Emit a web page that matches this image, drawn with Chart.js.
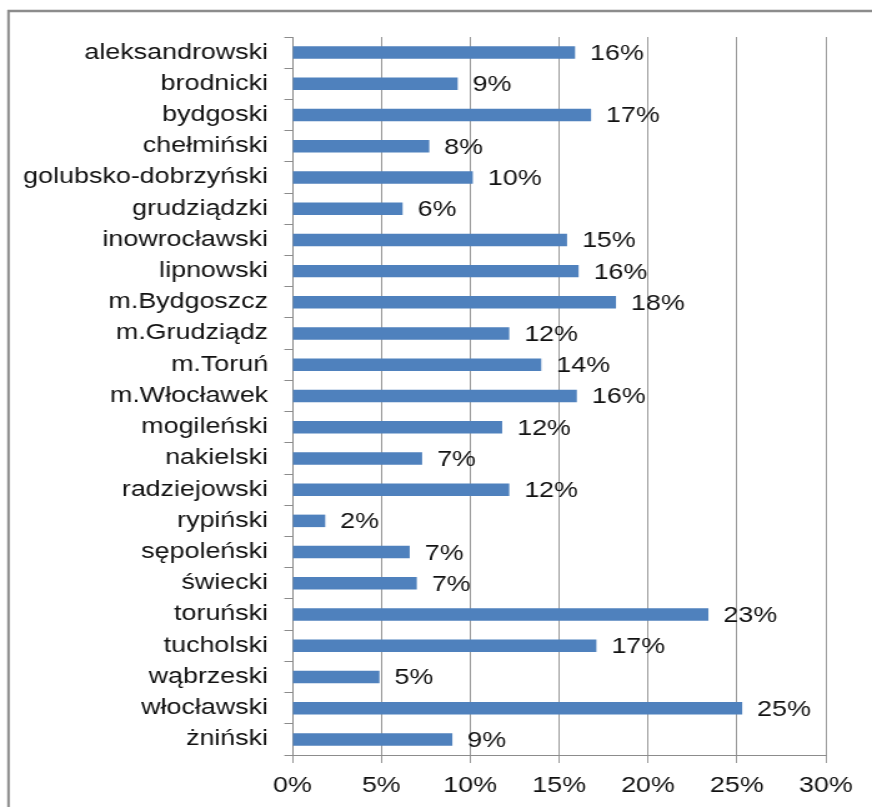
<!DOCTYPE html>
<html>
<head>
<meta charset="utf-8">
<script src="https://cdn.jsdelivr.net/npm/chart.js@4"></script>
<style>
  html, body { margin: 0; padding: 0; background: #fff; overflow: hidden; }
</style>
</head>
<body>
<!-- the reference picture is stretched sideways, so the canvas is drawn narrow and shown wide -->
<canvas id="chart" width="698" height="807" style="width:872px;height:807px;display:block"></canvas>
<script>
var categories = ['aleksandrowski', 'brodnicki', 'bydgoski', 'chełmiński', 'golubsko-dobrzyński',
    'grudziądzki', 'inowrocławski', 'lipnowski', 'm.Bydgoszcz', 'm.Grudziądz', 'm.Toruń',
    'm.Włocławek', 'mogileński', 'nakielski', 'radziejowski', 'rypiński', 'sępoleński',
    'świecki', 'toruński', 'tucholski', 'wąbrzeski', 'włocławski', 'żniński'];
var shares = [15.9, 9.3, 16.8, 7.7, 10.15, 6.2, 15.45, 16.1, 18.2, 12.2, 14.0,
    16.0, 11.8, 7.3, 12.2, 1.85, 6.6, 7.0, 23.4, 17.1, 4.9, 25.3, 9.0];
var xTicks = [0, 5, 10, 15, 20, 25, 30];

var fontFamily = '"Liberation Sans", Arial, sans-serif';
var labelFont = '21.5px ' + fontFamily;

var frame = {
    id: 'frame',
    beforeDraw: function (chart) {
        var c = chart.ctx;
        c.save();
        c.strokeStyle = '#8c8c8c';
        c.lineWidth = 2.5;
        c.beginPath();
        c.moveTo(6, 11);
        c.lineTo(chart.width + 5, 11);
        c.stroke();
        c.lineWidth = 2;
        c.beginPath();
        c.moveTo(6.8, 10);
        c.lineTo(6.8, chart.height + 5);
        c.stroke();
        c.restore();
    }
};

var valueLabels = {
    id: 'valueLabels',
    afterDatasetsDraw: function (chart) {
        var c = chart.ctx;
        var meta = chart.getDatasetMeta(0);
        c.save();
        c.font = labelFont;
        c.fillStyle = '#111';
        c.textAlign = 'left';
        c.textBaseline = 'middle';
        meta.data.forEach(function (bar, i) {
            c.fillText(Math.round(shares[i]) + '%', bar.x + 12, bar.y + 1.5);
        });
        c.restore();
    }
};

new Chart(document.getElementById('chart'), {
    type: 'bar',
    data: {
        labels: categories,
        datasets: [{
            data: shares,
            backgroundColor: '#4f81bd',
            borderWidth: 0,
            barPercentage: 0.4,
            categoryPercentage: 1.0
        }]
    },
    plugins: [frame, valueLabels],
    options: {
        indexAxis: 'y',
        responsive: false,
        animation: false,
        layout: { padding: { top: 37, right: 37, left: 0, bottom: 0 } },
        plugins: {
            legend: { display: false },
            tooltip: { enabled: false }
        },
        scales: {
            x: {
                min: 0,
                max: 30,
                afterBuildTicks: function (scale) {
                    scale.ticks = xTicks.map(function (v) { return { value: v }; });
                },
                afterFit: function (scale) { scale.height = 52; },
                grid: { color: '#9a9a9a', lineWidth: 1, tickLength: 8 },
                border: { color: '#8c8c8c', width: 1 },
                ticks: {
                    maxRotation: 0,
                    autoSkip: false,
                    padding: 10,
                    color: '#111',
                    font: { family: fontFamily, size: 21.5 },
                    callback: function (v) { return v + '%'; }
                }
            },
            y: {
                afterFit: function (scale) { scale.width = 234; },
                grid: { drawOnChartArea: false, color: '#8c8c8c', tickLength: 6.4 },
                border: { color: '#8c8c8c', width: 1 },
                ticks: {
                    autoSkip: false,
                    padding: 13,
                    color: '#111',
                    font: { family: fontFamily, size: 21.5 }
                }
            }
        }
    }
});
</script>
</body>
</html>
